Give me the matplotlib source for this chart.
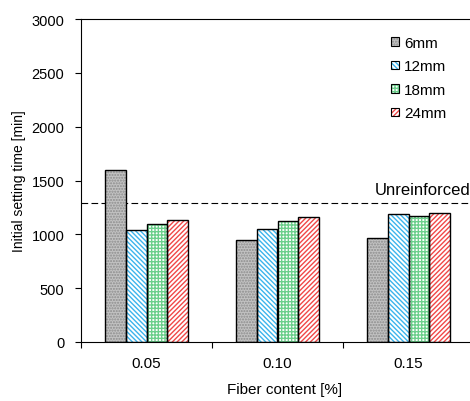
import matplotlib
matplotlib.use("Agg")
import matplotlib.pyplot as plt
from matplotlib.patches import Rectangle
import numpy as np

plt.rcParams['font.family'] = ['Liberation Sans', 'DejaVu Sans']
plt.rcParams['hatch.linewidth'] = 1.0

fiber_content = ["0.05", "0.10", "0.15"]
fiber_lengths = ["6mm", "12mm", "18mm", "24mm"]
setting_time = {
    "6mm":  [1600, 950, 965],
    "12mm": [1040, 1050, 1185],
    "18mm": [1100, 1125, 1170],
    "24mm": [1135, 1165, 1200],
}
unreinforced = 1290

styles = {
    "6mm":  dict(face="#c2c2c2", hatch="......", hcolor="#8c8c8c"),
    "12mm": dict(face="white", hatch="\\\\\\\\\\\\\\", hcolor="#3cb4ec"),
    "18mm": dict(face="white", hatch="+++++", hcolor="#6ccf8c"),
    "24mm": dict(face="white", hatch="///////", hcolor="#f04848"),
}

fig = plt.figure(figsize=(4.7, 4.02), dpi=100)
ax = fig.add_axes([81/470, 59/402, 393/470, 323/402])

x = np.arange(len(fiber_content)) + 0.5
width = 0.16
offsets = (np.arange(len(fiber_lengths)) - 1.5) * width

handles = []
for off, name in zip(offsets, fiber_lengths):
    st = styles[name]
    ax.bar(x + off, setting_time[name], width, facecolor=st["face"],
           edgecolor=st["hcolor"], hatch=st["hatch"], linewidth=0, zorder=2)
    ax.bar(x + off, setting_time[name], width, facecolor="none",
           edgecolor="black", linewidth=1.0, zorder=3)
    fill = Rectangle((0, 0), 1, 1, facecolor=st["face"], edgecolor=st["hcolor"],
                     hatch=st["hatch"], linewidth=0)
    outline = Rectangle((0, 0), 1, 1, facecolor="none", edgecolor="black", linewidth=0.8)
    handles.append((fill, outline))

ax.axhline(unreinforced, color="black", linestyle=(0, (6, 3)), linewidth=0.8, zorder=1)
ax.text(2.97, unreinforced + 55, "Unreinforced", ha="right", va="bottom", fontsize=12)

ax.set_xlim(0, 3)
ax.set_ylim(0, 3000)
ax.set_yticks(np.arange(0, 3001, 500))
ax.set_xticks([0, 1, 2, 3])
ax.set_xticklabels([])
ax.set_xticks(x, minor=True)
ax.set_xticklabels(fiber_content, minor=True)
ax.tick_params(axis="x", which="minor", length=0, labelsize=11, pad=10)
ax.tick_params(axis="x", which="major", length=4, direction="out")
ax.tick_params(axis="y", length=4, direction="out", labelsize=10.5, pad=8)

ax.set_ylabel("Initial setting time [min]", fontsize=10, labelpad=4)
fig.text(285/470, 1 - 390/402, "Fiber content [%]", ha="center", va="center", fontsize=11)

leg = ax.legend(handles, fiber_lengths, loc="upper right", bbox_to_anchor=(0.965, 0.99),
                frameon=False, fontsize=11, handlelength=0.5, handleheight=0.5,
                handletextpad=0.35, labelspacing=0.62)

fig.savefig("out.png", dpi=100)
